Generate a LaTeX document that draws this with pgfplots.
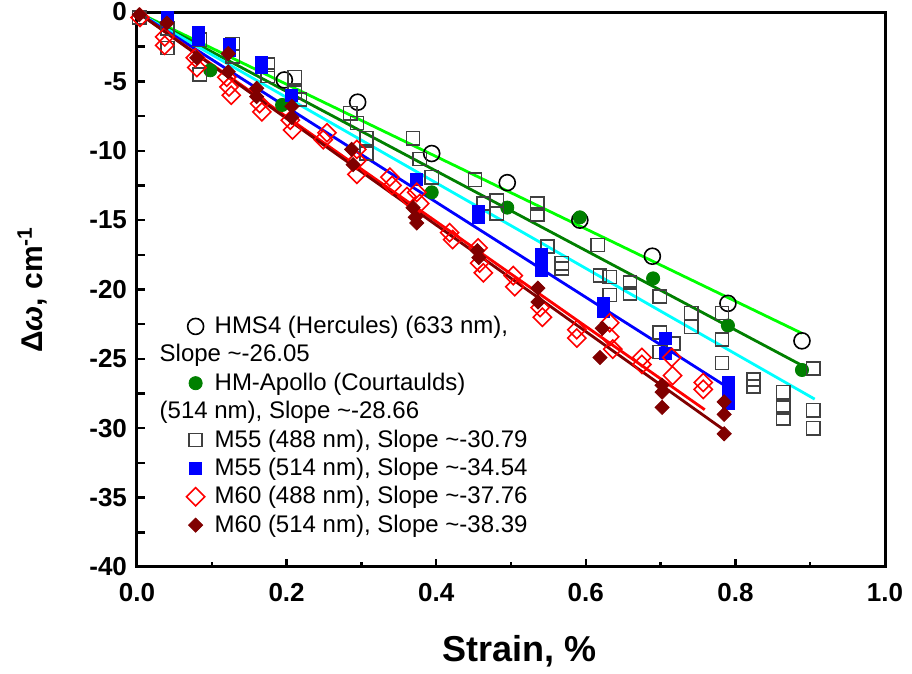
\documentclass[border=0pt]{standalone}
\usepackage{fontspec}
\setmainfont{Liberation Sans}
\usepackage{pgfplots}
\pgfplotsset{compat=1.18}

\definecolor{LimeFit}{HTML}{00FF00}
\definecolor{DarkGreen}{HTML}{008000}
\definecolor{CyanFit}{HTML}{00FFFF}
\definecolor{DarkRed}{HTML}{800000}

\begin{document}
\begin{tikzpicture}
\begin{axis}[
  name=ax,
  scale only axis,
  width=374pt,
  height=277.5pt,
  xmin=0, xmax=1.0,
  ymin=-40, ymax=0,
  xtick={0,0.2,...,1.0},
  minor xtick={0.1,0.3,...,0.9},
  ytick={-40,-35,...,0},
  extra y ticks={-37.5,-32.5,-27.5,-22.5,-17.5,-12.5,-7.5,-2.5},
  extra y tick labels={},
  tick pos=left,
  tick align=inside,
  major tick length=4pt,
  minor tick length=2.5pt,
  axis line style={line width=1.5pt},
  every tick/.style={line width=1.2pt, black},
  /pgf/number format/assume math mode=true,
  tick label style={font=\fontsize{13}{15}\selectfont\bfseries},
  xticklabel style={yshift=-4.5pt, /pgf/number format/.cd, fixed, fixed zerofill, precision=1},
  yticklabel style={xshift=-1.5pt},
  xlabel={Strain, \%},
  ylabel={Δ\textit{ω}, cm\textsuperscript{-1}},
  label style={font=\fontsize{18}{21}\selectfont\bfseries},
  xlabel style={at={(axis description cs:0.512,-0.151)}, anchor=center},
  ylabel style={at={(axis description cs:-0.140,0.5)}, anchor=center,
    font=\fontsize{15}{18}\selectfont\bfseries},
  legend style={at={(axis description cs:0.047,0.467)}, anchor=north west,
    draw=none, fill=none, font=\fontsize{12}{14.4}\selectfont,
    row sep=0pt, column sep=3pt},
  legend cell align=left,
]
% HMS4 (Hercules), 633 nm
\addplot[only marks, mark=o, mark size=4pt, black, mark options={line width=0.8pt}] coordinates {
  (0.197,-4.9) (0.295,-6.5) (0.394,-10.2) (0.495,-12.3) (0.592,-15.0)
  (0.689,-17.6) (0.790,-21.0) (0.889,-23.7)
};
\addlegendentry{HMS4 (Hercules) (633 nm),}
\addlegendimage{empty legend}
\addlegendentry{\hspace*{-27.5pt}Slope \textasciitilde-26.05}
% HM-Apollo (Courtaulds), 514 nm
\addplot[only marks, mark=*, mark size=3.3pt, DarkGreen, mark options={draw=DarkGreen, fill=DarkGreen}] coordinates {
  (0.098,-4.2) (0.194,-6.7) (0.394,-13.0) (0.495,-14.1) (0.592,-14.8)
  (0.690,-19.2) (0.790,-22.6) (0.889,-25.8)
};
\addlegendentry{HM-Apollo (Courtaulds)}
\addlegendimage{empty legend}
\addlegendentry{\hspace*{-27.5pt}(514 nm), Slope \textasciitilde-28.66}
% M55, 488 nm
\addplot[only marks, mark=square, mark size=3.3pt, black!75, mark options={line width=0.8pt}] coordinates {
  (0.003,-0.4) (0.041,-1.2) (0.041,-2.6) (0.084,-2.0) (0.084,-4.5)
  (0.128,-2.3) (0.128,-3.2) (0.175,-3.8) (0.175,-4.6)
  (0.211,-4.7) (0.211,-5.8) (0.218,-6.3)
  (0.285,-7.3) (0.294,-8.0) (0.307,-9.1) (0.307,-10.2)
  (0.369,-9.1) (0.378,-10.6) (0.394,-11.9)
  (0.452,-12.1) (0.463,-13.8) (0.481,-13.6) (0.481,-14.5)
  (0.535,-13.8) (0.535,-14.6) (0.549,-16.9) (0.568,-18.1) (0.568,-18.5)
  (0.616,-16.8) (0.619,-19.0) (0.632,-19.1) (0.632,-20.4)
  (0.659,-19.5) (0.659,-20.3)
  (0.699,-20.5) (0.699,-23.1) (0.699,-24.5) (0.717,-23.9)
  (0.741,-21.7) (0.741,-22.7)
  (0.782,-21.7) (0.782,-23.6) (0.782,-25.3)
  (0.824,-26.5) (0.824,-27.0)
  (0.864,-27.4) (0.864,-28.5) (0.864,-29.3)
  (0.904,-25.7) (0.904,-28.7) (0.904,-30.0)
};
\addlegendentry{M55 (488 nm), Slope \textasciitilde-30.79}
% M55, 514 nm
\addplot[only marks, mark=square*, mark size=3pt, blue, mark options={draw=blue, fill=blue}] coordinates {
  (0.040,-0.4) (0.082,-1.5) (0.082,-2.0)
  (0.124,-2.3) (0.124,-2.8) (0.166,-3.6) (0.166,-4.0)
  (0.207,-6.0) (0.374,-12.1) (0.457,-14.4) (0.457,-14.8)
  (0.541,-17.5) (0.541,-18.0) (0.541,-18.6)
  (0.623,-21.0) (0.623,-21.6) (0.707,-23.5) (0.707,-24.6)
  (0.790,-26.7) (0.790,-27.4) (0.790,-28.2)
};
\addlegendentry{M55 (514 nm), Slope \textasciitilde-34.54}
% M60, 488 nm
\addplot[only marks, mark=square, mark size=3.2pt, red, mark options={rotate=45, line width=0.8pt}] coordinates {
  (0.004,-0.4) (0.037,-1.8) (0.037,-2.4) (0.078,-3.3) (0.080,-4.0)
  (0.120,-4.7) (0.123,-5.4) (0.126,-6.0) (0.164,-6.6) (0.167,-7.2)
  (0.205,-7.8) (0.208,-8.5) (0.249,-9.2) (0.254,-8.7)
  (0.294,-9.9) (0.294,-10.7) (0.294,-11.7) (0.338,-11.9) (0.341,-12.5)
  (0.361,-13.3) (0.374,-13.0) (0.378,-13.8) (0.418,-15.9) (0.422,-16.4)
  (0.456,-17.0) (0.458,-18.1) (0.463,-18.8) (0.503,-19.0) (0.505,-19.8)
  (0.539,-21.3) (0.542,-22.0) (0.588,-22.9) (0.588,-23.5)
  (0.632,-22.4) (0.632,-23.4) (0.636,-24.3) (0.675,-24.9) (0.675,-25.4)
  (0.715,-24.9) (0.716,-26.2) (0.757,-26.7) (0.757,-27.2)
};
\addlegendentry{M60 (488 nm), Slope \textasciitilde-37.76}
% M60, 514 nm
\addplot[only marks, mark=square*, mark size=2.5pt, DarkRed, mark options={rotate=45, draw=DarkRed, fill=DarkRed}] coordinates {
  (0.003,-0.2) (0.040,-0.8) (0.080,-3.3) (0.122,-3.0) (0.122,-4.3)
  (0.160,-5.5) (0.160,-6.1) (0.207,-6.8) (0.207,-7.6)
  (0.287,-9.9) (0.289,-11.0) (0.369,-14.1) (0.372,-14.8) (0.374,-15.2)
  (0.455,-17.2) (0.457,-17.7) (0.536,-19.9) (0.536,-20.9)
  (0.622,-22.8) (0.619,-24.9) (0.702,-26.9) (0.702,-27.4) (0.702,-28.5)
  (0.785,-28.1) (0.785,-29.0) (0.785,-30.4)
};
\addlegendentry{M60 (514 nm), Slope \textasciitilde-38.39}
% linear fits
\addplot[forget plot, LimeFit, line width=1.4pt] coordinates {(0,0) (0.889,-23.16)};
\addplot[forget plot, DarkGreen, line width=1.4pt] coordinates {(0,0) (0.890,-25.5)};
\addplot[forget plot, CyanFit, line width=1.4pt] coordinates {(0,0) (0.906,-27.9)};
\addplot[forget plot, blue, line width=1.4pt] coordinates {(0,0) (0.788,-27.0)};
\addplot[forget plot, red, line width=1.4pt] coordinates {(0,0) (0.759,-28.66)};
\addplot[forget plot, DarkRed, line width=1.4pt] coordinates {(0,0) (0.786,-30.17)};
\end{axis}
\pgfresetboundingbox
\path[use as bounding box] ([shift={(-68.5pt,-53.5pt)}]ax.south west) rectangle ([shift={(13.5pt,6pt)}]ax.north east);
\end{tikzpicture}
\end{document}
